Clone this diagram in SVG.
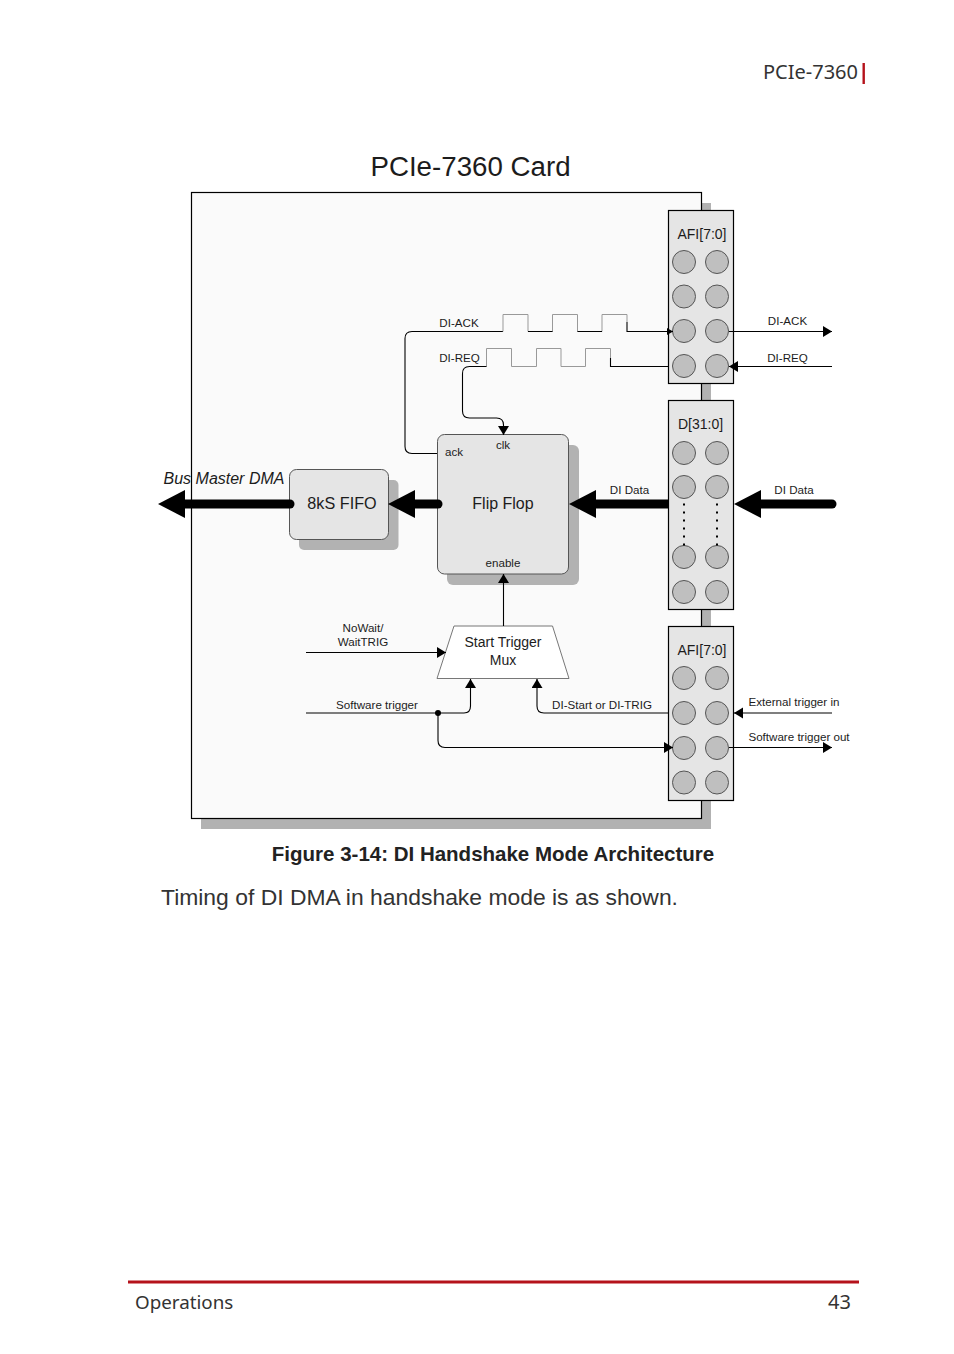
<svg xmlns="http://www.w3.org/2000/svg" width="954" height="1354" viewBox="0 0 954 1354">
<style>
text{font-family:"Liberation Sans",Arial,sans-serif;fill:#1c1c1c}
.s{font-size:11.6px}
.m{font-size:14px}
.c{text-anchor:middle}
.page{font-family:"Noto Sans","Open Sans",sans-serif;font-size:20px;fill:#333}
.shadow{fill:#b2b2b2}
.box{fill:#e5e5e5;stroke:#000;stroke-width:1.2}
.rbox{fill:#e5e5e5;stroke:#555;stroke-width:1}
.pin{fill:#bfbfbf;stroke:#555;stroke-width:1}
.w{fill:none;stroke:#000;stroke-width:1.1}
.pulse{fill:none;stroke:#999;stroke-width:1}
.thick{fill:none;stroke:#000;stroke-width:9;stroke-linecap:round}
.dots{fill:none;stroke:#000;stroke-width:2;stroke-dasharray:2 6}
</style>
<defs>
<marker id="a" markerUnits="userSpaceOnUse" markerWidth="10" markerHeight="12" refX="9" refY="5.5" orient="auto"><path d="M0 0L9 5.5L0 11Z" fill="#000"/></marker>
<marker id="b" markerUnits="userSpaceOnUse" markerWidth="7" markerHeight="8" refX="6" refY="3.500" orient="auto"><path d="M0 0L6 3.500L0 7Z" fill="#000"/></marker>
</defs>
<rect width="954" height="1354" fill="#fff"/>
<text class="page" x="858" y="79" text-anchor="end">PCIe-7360</text>
<rect x="862.500" y="63" width="2.400" height="21" fill="#b5121b"/>
<text x="470.500" y="176" class="c" font-size="27.700">PCIe-7360 Card</text>

<g id="card">
<rect class="shadow" x="201" y="203" width="510" height="626"/>
<rect x="191.500" y="192.500" width="510" height="626" fill="#fafafa" stroke="#000" stroke-width="1.200"/>
</g>

<g id="fifo">
<rect class="shadow" x="299" y="480" width="99.500" height="70" rx="5"/>
<rect class="rbox" x="289.500" y="469.500" width="99" height="70" rx="7"/>
<text x="342" y="509" class="c" font-size="16.200">8kS FIFO</text>
</g>

<g id="flipflop">
<rect class="shadow" x="447" y="445" width="132" height="140" rx="6"/>
<rect class="rbox" x="437.500" y="434.500" width="131" height="139.500" rx="7"/>
<text x="503" y="509" class="c" font-size="16">Flip Flop</text>
<text x="454" y="456" class="s c">ack</text>
<text x="503" y="449" class="s c">clk</text>
<text x="503" y="567" class="s c">enable</text>
</g>

<g id="mux">
<path d="M454 626H552.500L569 678.500H437Z" fill="#fff" stroke="#777" stroke-width="1"/>
<text x="503" y="647" class="m c">Start Trigger</text>
<text x="503" y="665" class="m c">Mux</text>
</g>

<g id="afi-top">
<rect class="box" x="668.500" y="210.500" width="65" height="173"/>
<text x="702" y="239" class="m c">AFI[7:0]</text>
<circle class="pin" cx="684" cy="262" r="11.500"/><circle class="pin" cx="717" cy="262" r="11.500"/>
<circle class="pin" cx="684" cy="296.500" r="11.500"/><circle class="pin" cx="717" cy="296.500" r="11.500"/>
<circle class="pin" cx="684" cy="331" r="11.500"/><circle class="pin" cx="717" cy="331" r="11.500"/>
<circle class="pin" cx="684" cy="366" r="11.500"/><circle class="pin" cx="717" cy="366" r="11.500"/>
</g>

<g id="d-bus">
<rect class="box" x="668.500" y="400.500" width="65" height="209"/>
<text x="700.500" y="429" class="m c">D[31:0]</text>
<circle class="pin" cx="684" cy="453" r="11.500"/><circle class="pin" cx="717" cy="453" r="11.500"/>
<circle class="pin" cx="684" cy="487" r="11.500"/><circle class="pin" cx="717" cy="487" r="11.500"/>
<circle class="pin" cx="684" cy="557" r="11.500"/><circle class="pin" cx="717" cy="557" r="11.500"/>
<circle class="pin" cx="684" cy="592" r="11.500"/><circle class="pin" cx="717" cy="592" r="11.500"/>
<path class="dots" d="M684 503.500V546M717 503.500V546"/>
</g>

<g id="afi-bottom">
<rect class="box" x="668.500" y="626.500" width="65" height="174"/>
<text x="702" y="655" class="m c">AFI[7:0]</text>
<circle class="pin" cx="684" cy="678" r="11.500"/><circle class="pin" cx="717" cy="678" r="11.500"/>
<circle class="pin" cx="684" cy="713" r="11.500"/><circle class="pin" cx="717" cy="713" r="11.500"/>
<circle class="pin" cx="684" cy="748" r="11.500"/><circle class="pin" cx="717" cy="748" r="11.500"/>
<circle class="pin" cx="684" cy="782.500" r="11.500"/><circle class="pin" cx="717" cy="782.500" r="11.500"/>
</g>

<g id="connectors">
<path class="w" d="M437 453.500H412Q405 453.500 405 446.500V338.500Q405 331.500 412 331.500H503"/>
<path class="pulse" d="M503 331.500V314.500H528V331.500H552.500V314.500H577.500V331.500H602V314.500H627V322"/>
<path class="w" d="M528 331.500H552.500M577.500 331.500H602M627 322V331.500H673" marker-end="url(#b)"/>
<path class="w" d="M729 331.500H832" marker-end="url(#a)"/>
<path class="w" d="M668 366.500H610.500V358"/>
<path class="pulse" d="M610.500 358V348.500H585.500V366.500H561V348.500H536.500V366.500H511.500V348.500H486.500V366.500"/>
<path class="w" d="M486.500 366.500H469.500Q462.500 366.500 462.500 373.500V411Q462.500 418 469.500 418H496.500Q503.500 418 503.500 425V435" marker-end="url(#a)"/>
<path class="w" d="M832 366.500H729" marker-end="url(#a)"/>
<path class="w" d="M503.500 626V574" marker-end="url(#a)"/>
<path class="w" d="M306 652.500H446" marker-end="url(#a)"/>
<path class="w" d="M306 713H464Q470.500 713 470.500 706V679" marker-end="url(#a)"/>
<path class="w" d="M668 713H544Q537 713 537 706V679" marker-end="url(#a)"/>
<path class="w" d="M438 713V740.500Q438 747.500 445 747.500H673" marker-end="url(#a)"/>
<circle cx="438" cy="713" r="3" fill="#000"/>
<path class="w" d="M832 713H734" marker-end="url(#a)"/>
<path class="w" d="M729 747.500H832" marker-end="url(#a)"/>
<path class="thick" d="M290 504H180"/><path d="M158 504L185 490V518Z"/>
<path class="thick" d="M438 504H410"/><path d="M388 504L415 490V518Z"/>
<path class="thick" d="M668 504H590" style="stroke-linecap:butt"/><path d="M569 504L596 490V518Z"/>
<path class="thick" d="M832 504H755"/><path d="M734 504L761 490V518Z"/>
</g>

<g id="labels">
<text x="224" y="484" class="c" font-size="16" font-style="italic">Bus Master DMA</text>
<text x="459" y="327" class="s c">DI-ACK</text>
<text x="459.500" y="362" class="s c">DI-REQ</text>
<text x="787.500" y="325" class="s c">DI-ACK</text>
<text x="787.500" y="362" class="s c">DI-REQ</text>
<text x="629.500" y="494" class="s c">DI Data</text>
<text x="794" y="494" class="s c">DI Data</text>
<text x="363" y="632" class="s c">NoWait/</text>
<text x="363" y="646" class="s c">WaitTRIG</text>
<text x="377" y="709" class="s c">Software trigger</text>
<text x="602" y="709" class="s c">DI-Start or DI-TRIG</text>
<text x="794" y="706" class="s c">External trigger in</text>
<text x="799" y="741" class="s c">Software trigger out</text>
</g>

<text x="493" y="861" class="c" font-size="20.500" font-weight="bold" style="fill:#222">Figure 3-14: DI Handshake Mode Architecture</text>
<text x="161" y="905" font-size="22.900" style="fill:#333">Timing of DI DMA in handshake mode is as shown.</text>
<rect x="128" y="1280.500" width="731" height="3" fill="#b5121b"/>
<text class="page" x="135" y="1309" style="font-size:18.800px">Operations</text>
<text class="page" x="851" y="1309" text-anchor="end">43</text>
</svg>
